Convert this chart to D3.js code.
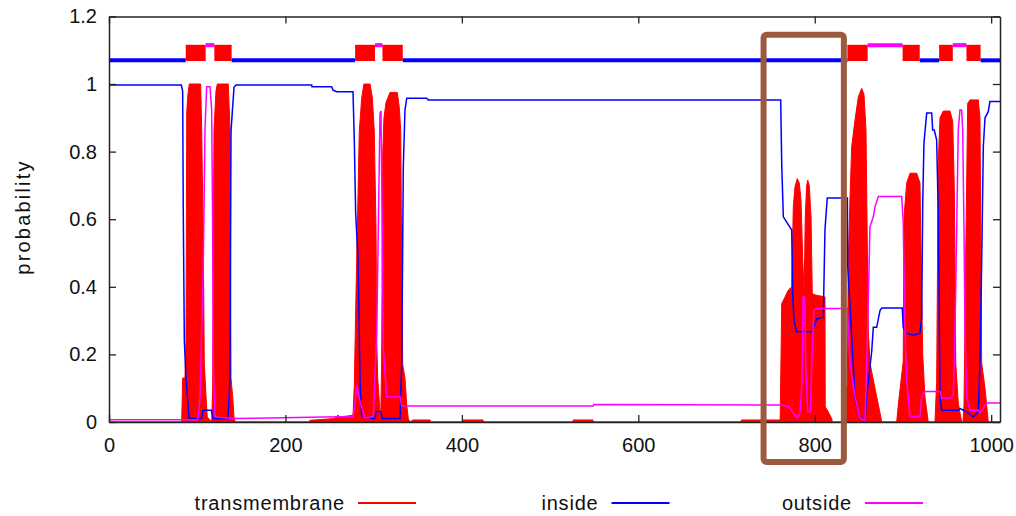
<!DOCTYPE html>
<html>
<head>
<meta charset="utf-8">
<script src="https://cdn.jsdelivr.net/npm/d3@7"></script>
<style>
  body { margin: 0; background: #fff; }
  text { font-family: "Liberation Sans", Arial, sans-serif; fill: #111; }
</style>
</head>
<body>
<div id="chart-area"></div>
<script>
// ---------- DATA (residue position, probability) ----------
let seqLength = 1010;

let transmembrane = [
  [0, 0], [82.4, 0], [83.5, 0.13], [86.1, 0.13], [87.3, 0.24], [88.1, 0.914], [89.2, 0.962], [91, 1.0],
  [103.9, 1.0], [105.1, 0.864], [106.9, 0.52], [108, 0.175], [110, 0.075], [111.4, 0.015], [116.4, 0],
  [117.5, 0.1], [119, 0.864], [121.3, 0.98], [122.8, 1.0], [135.2, 1.0], [137.2, 0.864], [138.3, 0.13],
  [140.2, 0.075], [141.7, 0.015], [143, 0], [227, 0], [227.8, 0.005], [255, 0.01], [259.6, 0.02],
  [262, 0.015], [276.6, 0.02], [278.1, 0.11], [280, 0.38], [281.5, 0.57], [283.7, 0.86], [286.5, 0.96],
  [289, 1.0], [295.9, 1.0], [298.5, 0.96], [300.7, 0.86], [302.7, 0.57], [303.5, 0.24], [304.6, 0.13],
  [306.4, 0.06], [308, 0.01], [309.1, 0.18], [310.2, 0.79], [311.7, 0.9], [314, 0.945], [318.5, 0.975],
  [326.8, 0.975], [329.1, 0.93], [330.7, 0.86], [331.8, 0.47], [332.9, 0.17], [335.5, 0.13], [337.5, 0.05],
  [339.3, 0.01], [341, 0], [344.6, 0.006], [363.9, 0.006], [364.5, 0], [401.3, 0], [401.4, 0.006],
  [424, 0.006], [424.5, 0], [526, 0], [526.1, 0.006], [548.6, 0.006], [549, 0], [716, 0], [717, 0.006],
  [760.8, 0.006], [762.6, 0.35], [766.3, 0.37], [770, 0.39], [773.9, 0.4], [775.7, 0.637], [777.6, 0.696],
  [780.2, 0.72], [782.5, 0.707], [784.4, 0.657], [786.4, 0.48], [788, 0.38], [789.2, 0.6], [790.7, 0.696],
  [792, 0.716], [793.8, 0.7], [795.8, 0.607], [797.2, 0.38], [800.3, 0.376], [811.6, 0.37], [811.9, 0.045],
  [815.3, 0.03], [819.2, 0.01], [820, 0], [834, 0], [835.4, 0.104], [836.9, 0.104], [838, 0.47],
  [840, 0.667], [841.9, 0.815], [845.6, 0.893], [849.4, 0.962], [853.2, 0.987], [855.8, 0.97],
  [858.1, 0.864], [860.7, 0.27], [862.6, 0.175], [866.4, 0.124], [870.2, 0.075], [874, 0.027], [875.9, 0],
  [892.9, 0], [894.7, 0.05], [900.3, 0.18], [901.2, 0.607], [904.2, 0.707], [908, 0.736], [915.6, 0.736],
  [919.3, 0.707], [921.2, 0.37], [922.4, 0.2], [924.9, 0.075], [928.7, 0], [936.3, 0], [938.2, 0.12],
  [940, 0.766], [942, 0.9], [945.7, 0.92], [953.3, 0.92], [956.4, 0.89], [958.2, 0.69], [959.8, 0.175],
  [962.7, 0.056], [966.5, 0], [968, 0], [969.2, 0.05], [971.5, 0.57], [973.4, 0.943], [976, 0.953],
  [985.4, 0.953], [987.3, 0.9], [989.2, 0.175], [993, 0.1], [996.7, 0], [1010, 0]
];

let inside = [
  [0, 0.997], [82, 0.997], [83.5, 0.978], [84.2, 0.62], [85.4, 0.24], [87.3, 0.13], [90.7, 0.01],
  [105, 0.01], [106.6, 0.035], [116, 0.035], [118, 0.01], [134.9, 0.01], [137.2, 0.13], [138.3, 0.86],
  [141.7, 0.99], [144, 0.997], [229.8, 0.997], [230.1, 0.992], [252.4, 0.992], [253.9, 0.982],
  [258.1, 0.977], [276.6, 0.977], [278.1, 0.83], [279.6, 0.62], [282.3, 0.48], [284.6, 0.12],
  [286.5, 0.015], [301, 0.01], [303, 0.03], [308, 0.03], [310, 0.01], [329.9, 0.01], [331.8, 0.17],
  [333.6, 0.755], [335.5, 0.923], [337.5, 0.958], [360, 0.958], [362, 0.953], [761.4, 0.953],
  [762.6, 0.76], [764.4, 0.607], [773.9, 0.568], [775, 0.38], [776.5, 0.3], [779.5, 0.267],
  [796.5, 0.267], [802.2, 0.305], [809.7, 0.31], [811.6, 0.57], [814.2, 0.663], [837, 0.663],
  [837.4, 0.46], [843, 0.2], [845.6, 0.07], [851.3, 0.015], [857, 0.005], [858.9, 0.075], [864.6, 0.21],
  [866.4, 0.28], [870.2, 0.28], [874, 0.33], [875.9, 0.337], [899.2, 0.337], [900.3, 0.28],
  [904.2, 0.263], [911.7, 0.257], [919.3, 0.263], [921.2, 0.31], [922.4, 0.648], [923.8, 0.825],
  [926.9, 0.914], [932.6, 0.914], [933.7, 0.864], [935.5, 0.864], [938.2, 0.834], [940, 0.62],
  [942, 0.075], [943.9, 0.035], [962.7, 0.035], [964.6, 0.04], [972.2, 0.03], [979.7, 0.015],
  [985.4, 0.03], [987.3, 0.175], [989.2, 0.47], [991.1, 0.815], [993, 0.9], [996.7, 0.918],
  [998.6, 0.948], [1010, 0.948]
];

let outside = [
  [0, 0.007], [100, 0.007], [101.2, 0.012], [103.2, 0.075], [106.9, 0.47], [108.8, 0.864],
  [110.7, 0.992], [114.5, 0.992], [116.4, 0.923], [117.5, 0.568], [118.2, 0.175], [120.2, 0.015],
  [140, 0.01], [276.6, 0.016], [278.9, 0.055], [280.8, 0.11], [284.5, 0.06], [290.2, 0.012],
  [299.6, 0.016], [303.5, 0.27], [305.3, 0.57], [307.2, 0.914], [308.3, 0.92], [309.1, 0.735],
  [310.9, 0.22], [314.8, 0.075], [329.9, 0.075], [331.8, 0.047], [549, 0.047], [549.5, 0.052],
  [762.6, 0.05], [770.2, 0.045], [775.7, 0.027], [779.5, 0.012], [783.3, 0.025], [785.5, 0.12],
  [786.8, 0.37], [788.5, 0.37], [790, 0.15], [792, 0.03], [795, 0.03], [797, 0.2], [799, 0.33],
  [802.2, 0.336], [836.9, 0.336], [840, 0.175], [845.6, 0.075], [851.3, 0.012], [857, 0.005],
  [858.9, 0.175], [860.8, 0.37], [862.6, 0.578], [866.4, 0.607], [868.3, 0.637], [872.1, 0.667],
  [898.6, 0.667], [900.3, 0.59], [902.3, 0.27], [904.2, 0.124], [908, 0.016], [919.3, 0.016],
  [921.2, 0.075], [923, 0.086], [924.9, 0.09], [942, 0.09], [943.9, 0.07], [953.3, 0.07],
  [957.1, 0.08], [959, 0.27], [960.9, 0.57], [962.7, 0.864], [964.6, 0.923], [966.5, 0.923],
  [967.7, 0.864], [969.2, 0.57], [970.3, 0.27], [972.2, 0.075], [976, 0.035], [985.4, 0.035],
  [987.3, 0.027], [994.9, 0.056], [1010, 0.056]
];

// predicted topology along the top
let segStart = [0, 87, 109.6, 119.4, 139, 279, 301.5, 310, 333, 837, 860, 899.6, 919, 941, 956.5, 972, 988];
let segEnd   = [87, 109.6, 119.4, 139, 279, 301.5, 310, 333, 837, 860, 899.6, 919, 941, 956.5, 972, 988, 1010];
let segType  = ["in", "tm", "out", "tm", "in", "tm", "out", "tm", "in", "tm", "out", "tm", "in", "tm", "out", "tm", "in"];

let xTicks = [0, 200, 400, 600, 800, 1000];
let xTickLabels = ["0", "200", "400", "600", "800", "1000"];
let yTicks = [0, 0.2, 0.4, 0.6, 0.8, 1, 1.2];
let yTickLabels = ["0", "0.2", "0.4", "0.6", "0.8", "1", "1.2"];

let legendNames = ["transmembrane", "inside", "outside"];
let legendColors = ["#ff0000", "#0000ff", "#ff00ff"];

// highlighted region (residues) drawn as a box
let boxStart = 742;
let boxEnd = 833;

// ---------- SETUP ----------
let margin = {top: 16.4, right: 16, left: 109, bottom: 94};
let width = 1016 - margin.left - margin.right;
let height = 516 - margin.top - margin.bottom;

let svg = d3.select("#chart-area").append("svg")
  .attr("width", 1016)
  .attr("height", 516);

let g = svg.append("g")
  .attr("transform", "translate(" + margin.left + "," + margin.top + ")");

let x = d3.scaleLinear().domain([0, seqLength]).range([0, width]);
let y = d3.scaleLinear().domain([0, 1.2]).range([height, 0]);

// ---------- CURVES ----------
let area = d3.area()
  .x(d => x(d[0]))
  .y0(y(0))
  .y1(d => y(d[1]));

let line = d3.line()
  .x(d => x(d[0]))
  .y(d => y(d[1]));

g.append("path")
  .datum(transmembrane)
  .attr("fill", "#ff0000")
  .attr("stroke", "#ff0000")
  .attr("stroke-width", 1)
  .attr("d", area);

g.append("path")
  .datum(inside)
  .attr("fill", "none")
  .attr("stroke", "#0000ff")
  .attr("stroke-width", 1.5)
  .attr("d", line);

g.append("path")
  .datum(outside)
  .attr("fill", "none")
  .attr("stroke", "#ff00ff")
  .attr("stroke-width", 1.5)
  .attr("d", line);

// ---------- TOPOLOGY BAR ----------
segType.forEach(function(t, i) {
  if (t === "tm") {
    g.append("rect")
      .attr("x", x(segStart[i]))
      .attr("width", x(segEnd[i]) - x(segStart[i]))
      .attr("y", y(1.116))
      .attr("height", y(1.068) - y(1.116))
      .attr("fill", "#ff0000");
  } else {
    let level = t === "in" ? 1.07 : 1.115;
    g.append("line")
      .attr("x1", x(segStart[i]))
      .attr("x2", x(segEnd[i]))
      .attr("y1", y(level))
      .attr("y2", y(level))
      .attr("stroke", t === "in" ? "#0000ff" : "#ff00ff")
      .attr("stroke-width", 4);
  }
});

// ---------- AXES ----------
let xAxis = d3.axisBottom(x).tickValues(xTicks).tickSizeInner(-7).tickSizeOuter(0).tickPadding(16)
  .tickFormat((d, i) => xTickLabels[i]);
let yAxis = d3.axisLeft(y).tickValues(yTicks).tickSizeInner(-7).tickSizeOuter(0).tickPadding(12)
  .tickFormat((d, i) => yTickLabels[i]);

let axes = [
  g.append("g").attr("transform", "translate(0," + height + ")").call(xAxis),
  g.append("g").call(yAxis),
  g.append("g").call(d3.axisTop(x).tickValues(xTicks).tickSizeInner(-7).tickSizeOuter(0).tickFormat("")),
  g.append("g").attr("transform", "translate(" + width + ",0)")
    .call(d3.axisRight(y).tickValues(yTicks).tickSizeInner(-7).tickSizeOuter(0).tickFormat(""))
];

axes.forEach(function(a) {
  a.select(".domain").attr("stroke", "#222").attr("stroke-width", 1.5);
  a.selectAll(".tick line").attr("stroke", "#222").attr("stroke-width", 1.3);
  a.selectAll(".tick text").attr("font-size", "20px").attr("font-family", "Liberation Sans, Arial, sans-serif").attr("fill", "#111");
});

// y label
g.append("text")
  .attr("transform", "rotate(-90)")
  .attr("x", -(217 - margin.top))
  .attr("y", -margin.left + 30)
  .attr("text-anchor", "middle")
  .attr("font-size", "20px")
  .attr("letter-spacing", "2.2px")
  .text("probability");

// ---------- LEGEND ----------
legendNames.forEach(function(name, i) {
  let ex = 345 + i * 253.5 - margin.left;
  let row = g.append("g").attr("transform", "translate(" + ex + "," + (503 - margin.top) + ")");
  row.append("text")
    .attr("x", 0)
    .attr("y", 7)
    .attr("text-anchor", "end")
    .attr("font-size", "20px")
    .attr("letter-spacing", "0.8px")
    .text(name);
  row.append("line")
    .attr("x1", 13)
    .attr("x2", 71)
    .attr("stroke", legendColors[i])
    .attr("stroke-width", 2);
});

// ---------- HIGHLIGHT BOX ----------
g.append("rect")
  .attr("x", x(boxStart))
  .attr("y", y(1.146))
  .attr("width", x(boxEnd) - x(boxStart))
  .attr("height", y(-0.118) - y(1.146))
  .attr("rx", 3)
  .attr("fill", "none")
  .attr("stroke", "#9b5a3e")
  .attr("stroke-width", 6);
</script>
</body>
</html>
